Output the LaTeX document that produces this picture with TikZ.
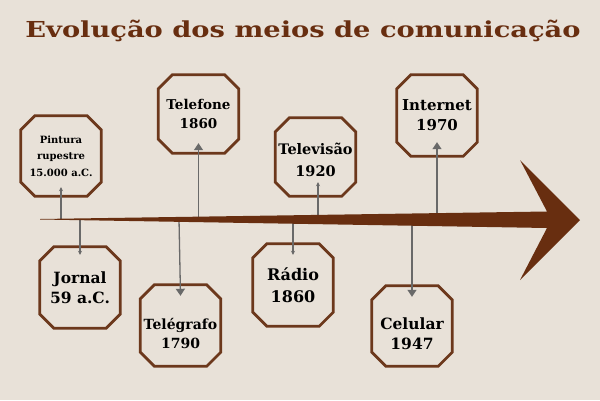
\documentclass[tikz,border=0pt]{standalone}
\usepackage{fontspec}
\setmainfont{DejaVu Serif}
\usetikzlibrary{arrows.meta,calc}
\definecolor{bg}{RGB}{232,225,216}
\definecolor{brown}{RGB}{104,46,16}
\definecolor{boxbrown}{RGB}{108,56,28}
\definecolor{conn}{RGB}{105,105,105}
\tikzset{
  event/.style={minimum width=80pt,minimum height=80pt,inner sep=0pt,align=center,font=\bfseries,text=black},
  lbl/.style={inner sep=0pt,align=center,text=black},
  octa/.style={draw=boxbrown,line width=2.7pt,line join=miter},
  small/.style={draw=conn,line width=1.1pt,-{Stealth[length=4pt,width=4pt]}},
  big/.style={draw=conn,line width=1.3pt,-{Triangle[length=7pt,width=9pt]}}
}
\newcommand{\octagon}[1]{%
  \draw[octa] ($(#1.north west)+(14,0)$) -- ($(#1.north east)+(-14,0)$) -- ($(#1.north east)+(0,14)$)
   -- ($(#1.south east)+(0,-14)$) -- ($(#1.south east)+(-14,0)$) -- ($(#1.south west)+(14,0)$)
   -- ($(#1.south west)+(0,-14)$) -- ($(#1.north west)+(0,14)$) -- cycle;}
\begin{document}
\begin{tikzpicture}[x=1pt,y=-1pt]
\fill[bg] (0,0) rectangle (600,400);
\useasboundingbox (0,0) rectangle (600,400);
% title
\node[anchor=base,text=brown,font=\bfseries\fontsize{22}{26}\selectfont,inner sep=0pt] (title) at (303,37) {\scalebox{1.24}[1]{Evolução dos meios de comunicação}};
% boxes
\node[event,font=\bfseries\fontsize{10}{16.5}\selectfont] (pint) at (61,156) {Pintura\\rupestre\\15.000 a.C.};
\node[event,minimum height=78pt,font=\bfseries\fontsize{13.5}{19.5}\selectfont] (tel) at (198.5,114) {Telefone\\1860};
\node[event,minimum height=78pt,label={[lbl,font=\bfseries\fontsize{14.5}{22}\selectfont,yshift=-3pt]center:Televisão\\1920}] (tv) at (315.5,157) {};
\node[event,minimum height=81pt,font=\bfseries\fontsize{15}{20}\selectfont] (int) at (437,115.5) {Internet\\1970};
\node[event,minimum height=81pt,font=\bfseries\fontsize{15.5}{20}\selectfont] (jor) at (80,287.5) {Jornal\\59 a.C.};
\node[event,minimum height=81pt,label={[lbl,font=\bfseries\fontsize{14}{19}\selectfont,yshift=-8pt]center:Telégrafo\\1790}] (tgf) at (180.5,325.5) {};
\node[event,minimum height=82pt,font=\bfseries\fontsize{16}{22}\selectfont] (rad) at (293,285) {Rádio\\1860};
\node[event,label={[lbl,font=\bfseries\fontsize{15.5}{20}\selectfont,yshift=-8pt]center:Celular\\1947}] (cel) at (412,326) {};
\foreach \b in {pint,tel,tv,int,jor,tgf,rad,cel}{\octagon{\b}}
% axis coordinate
\coordinate (axis) at (0,219);
% connectors
\draw[small] (pint.south |- axis) -- ([yshift=9pt]pint.south);
\draw[big] (tel.south |- axis) -- ([yshift=10pt]tel.south);
\draw[small] ([xshift=2.5pt]tv.south |- axis) -- ([xshift=2.5pt,yshift=14pt]tv.south);
\draw[big] (int.south |- axis) -- ([yshift=14pt]int.south);
\draw[small] (jor.north |- axis) -- ([yshift=-8pt]jor.north);
\draw[big] ([xshift=-1.5pt]tgf.north |- axis) -- ([yshift=-11pt]tgf.north);
\draw[small] (rad.north |- axis) -- ([yshift=-11pt]rad.north);
\draw[big] (cel.north |- axis) -- ([yshift=-11pt]cel.north);
% timeline arrow
\fill[brown] (40,219) -- (547,211.5) -- (520,160) -- (580,220) -- (520,280) -- (547,228) -- (40,219.5) -- cycle;
\end{tikzpicture}
\end{document}
